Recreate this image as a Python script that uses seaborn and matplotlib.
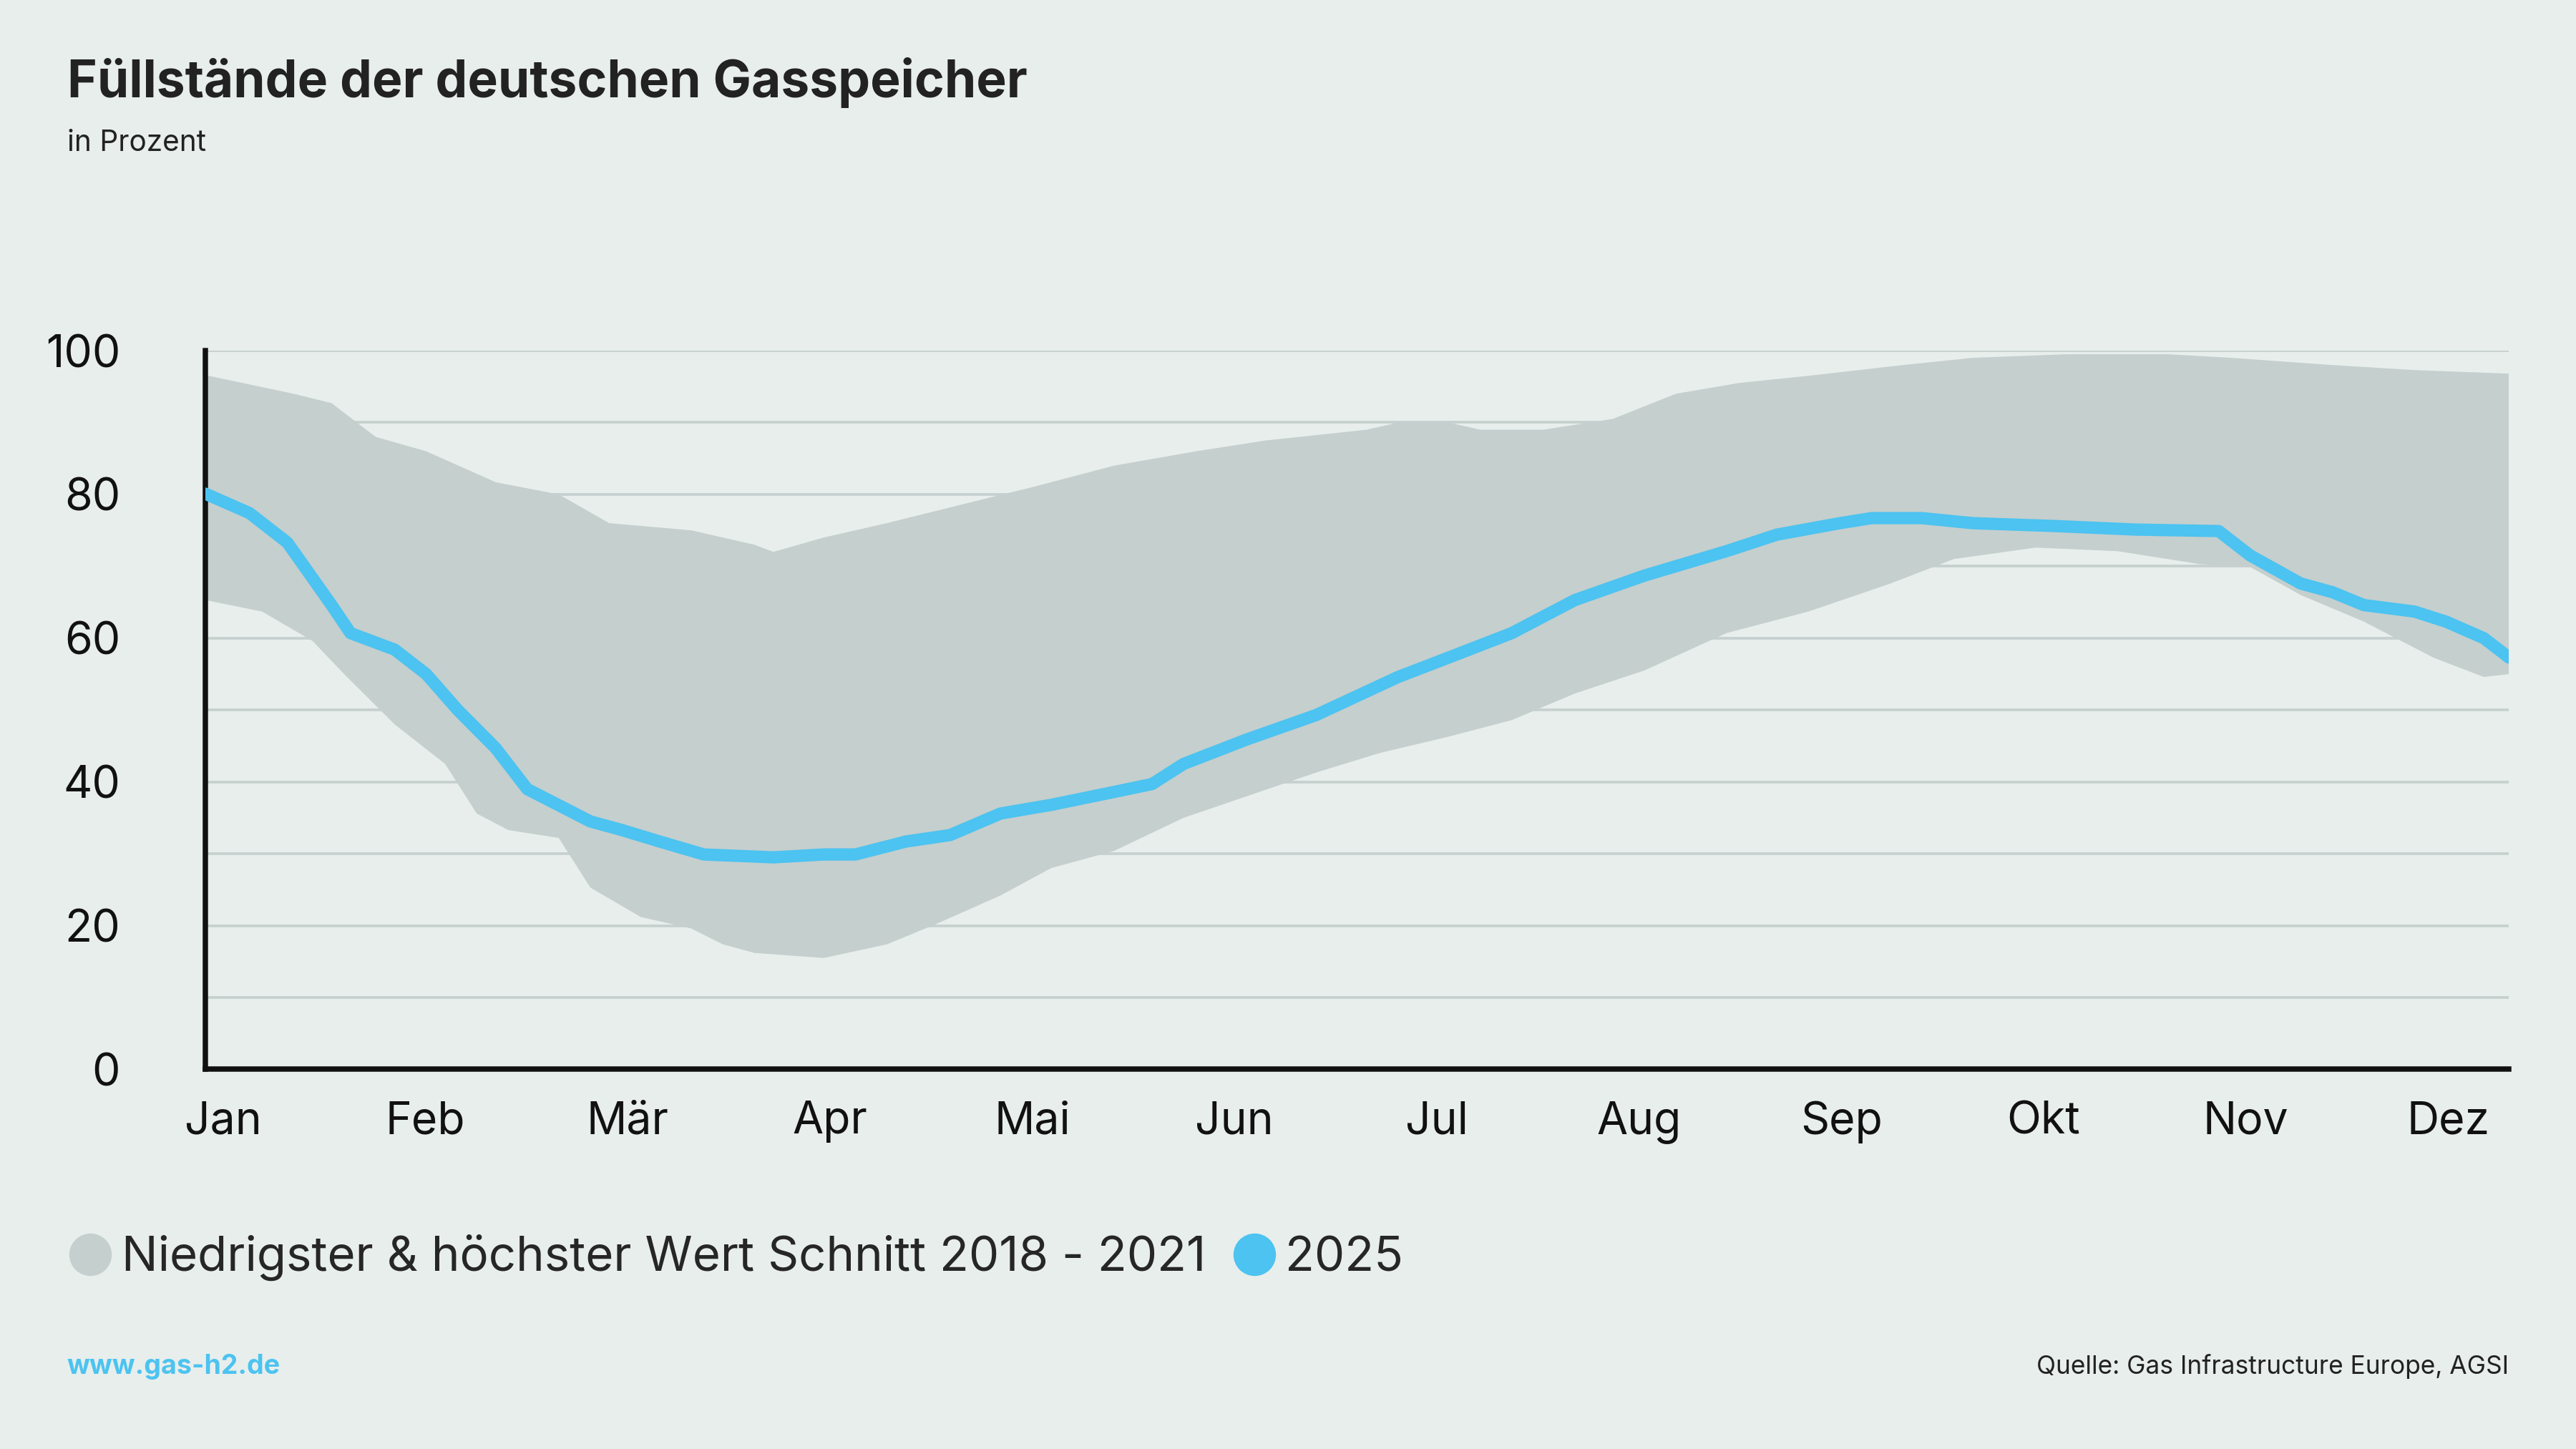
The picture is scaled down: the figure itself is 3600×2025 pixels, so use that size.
#!/usr/bin/env python3
"""Fuellstaende der deutschen Gasspeicher: band 2018-2021 + 2025 line."""
import matplotlib
matplotlib.use("Agg")
import matplotlib.pyplot as plt
from matplotlib.lines import Line2D
import pandas as pd
import seaborn as sns

BG = "#e8eeec"
BAND = "#c5cfce"
BLUE = "#4cc3f0"
GRID = "#c6d0ce"

# day of year -> percent
upper_day = [0, 14, 20, 27, 35, 46, 56, 64, 77, 87, 90, 98, 108, 124, 131, 144, 157, 168,
             184, 189, 197, 202, 212, 223, 233, 243, 254, 269, 280, 295, 311, 321, 337, 350, 365]
upper_val = [96.6, 94, 92.7, 88, 86, 81.7, 80, 76, 75, 73, 72, 74, 76, 79.5, 81, 84, 86, 87.5,
             89, 90, 90, 89, 89, 90.5, 94, 95.5, 96.5, 98, 99, 99.5, 99.5, 99, 98, 97.3, 96.8]
lower_day = [0, 9, 17, 22, 30, 38, 43, 48, 56, 61, 69, 77, 82, 87, 98, 108, 116, 126, 134, 144,
             155, 165, 176, 186, 197, 207, 217, 228, 241, 254, 267, 277, 290, 303, 316, 324,
             332, 342, 353, 361, 365]
lower_val = [65.3, 63.7, 59.6, 55, 48, 42.5, 35.6, 33.3, 32.2, 25.3, 21.2, 19.6, 17.4, 16.2,
             15.5, 17.4, 20.3, 24.2, 28, 30.4, 35, 38, 41.3, 44, 46.3, 48.6, 52.3, 55.5, 60.7,
             63.7, 67.6, 71, 72.6, 72.1, 70.3, 69.9, 66, 62.3, 57.3, 54.6, 55]
line_day = [0, 7, 13, 20, 23, 30, 35, 40, 46, 51, 57, 61, 66, 72, 79, 90, 98, 103, 111, 118,
            126, 134, 144, 150, 155, 165, 176, 189, 197, 207, 217, 228, 241, 249, 259, 264,
            272, 280, 293, 306, 319, 324, 332, 337, 342, 350, 355, 361, 365]
line_val = [80.1, 77.4, 73.3, 64.6, 60.7, 58.4, 55, 50, 44.7, 39, 36.3, 34.5, 33.3, 31.7, 29.9,
            29.5, 29.9, 29.9, 31.7, 32.6, 35.6, 36.8, 38.6, 39.7, 42.5, 45.9, 49.3, 54.6, 57.3,
            60.7, 65.3, 68.7, 72.1, 74.4, 76, 76.7, 76.7, 76, 75.6, 75.1, 74.9, 71.5, 67.6,
            66.4, 64.6, 63.7, 62.3, 60, 57.3]
months = ["Jan", "Feb", "Mär", "Apr", "Mai", "Jun", "Jul", "Aug", "Sep", "Okt", "Nov", "Dez"]
month_pos = [2.8 + 32.05 * i for i in range(12)]

sns.set_theme(style="white")
plt.rcParams["font.family"] = ["Inter", "DejaVu Sans"]

fig = plt.figure(figsize=(16, 9), dpi=225, facecolor=BG)
ax = fig.add_axes([0.0797, 0.262, 0.8943, 0.496], facecolor=BG)

band = pd.DataFrame({"day": upper_day, "val": upper_val})
low = pd.DataFrame({"day": lower_day, "val": lower_val})
poly_x = list(band["day"]) + list(low["day"])[::-1]
poly_y = list(band["val"]) + list(low["val"])[::-1]
ax.fill(poly_x, poly_y, color=BAND, lw=0, zorder=2)

df = pd.DataFrame({"day": line_day, "val": line_val})
sns.lineplot(data=df, x="day", y="val", color=BLUE, lw=5.5, ax=ax, zorder=3)

ax.set_xlim(0, 365)
ax.set_ylim(0, 100)
ax.set_yticks(range(0, 101, 10))
ax.set_yticklabels([str(v) if v % 20 == 0 else "" for v in range(0, 101, 10)])
ax.grid(axis="y", color=GRID, lw=1.2, zorder=1)
ax.set_axisbelow(True)
ax.set_xticks(month_pos)
ax.set_xticklabels(months)
ax.tick_params(axis="both", length=0, labelsize=20, colors="#111111")
ax.tick_params(axis="y", pad=38)
ax.tick_params(axis="x", pad=14)
ax.set_xlabel("")
ax.set_ylabel("")
for s in ["top", "right"]:
    ax.spines[s].set_visible(False)
for s in ["left", "bottom"]:
    ax.spines[s].set_color("#111111")
    ax.spines[s].set_linewidth(2.4)

fig.text(0.026, 0.943, "Füllstände der deutschen Gasspeicher", fontsize=22.8,
         fontweight="bold", color="#222222", va="center")
fig.text(0.026, 0.901, "in Prozent", fontsize=13, color="#222222", va="center")
fig.text(0.026, 0.057, "www.gas-h2.de", fontsize=12, fontweight="bold", color=BLUE, va="center")
fig.text(0.974, 0.057, "Quelle: Gas Infrastructure Europe, AGSI", fontsize=11.3,
         color="#222222", va="center", ha="right")

handles = [Line2D([], [], ls="", marker="o", ms=18, color=BAND),
           Line2D([], [], ls="", marker="o", ms=18, color=BLUE)]
fig.legend(handles, ["Niedrigster & höchster Wert Schnitt 2018 - 2021", "2025"],
           loc="center left", bbox_to_anchor=(0.009, 0.132), ncol=2, frameon=False,
           fontsize=21.5, handletextpad=0.15, columnspacing=0.5, handlelength=1.0)

fig.savefig("out.png", dpi=225, facecolor=BG)
